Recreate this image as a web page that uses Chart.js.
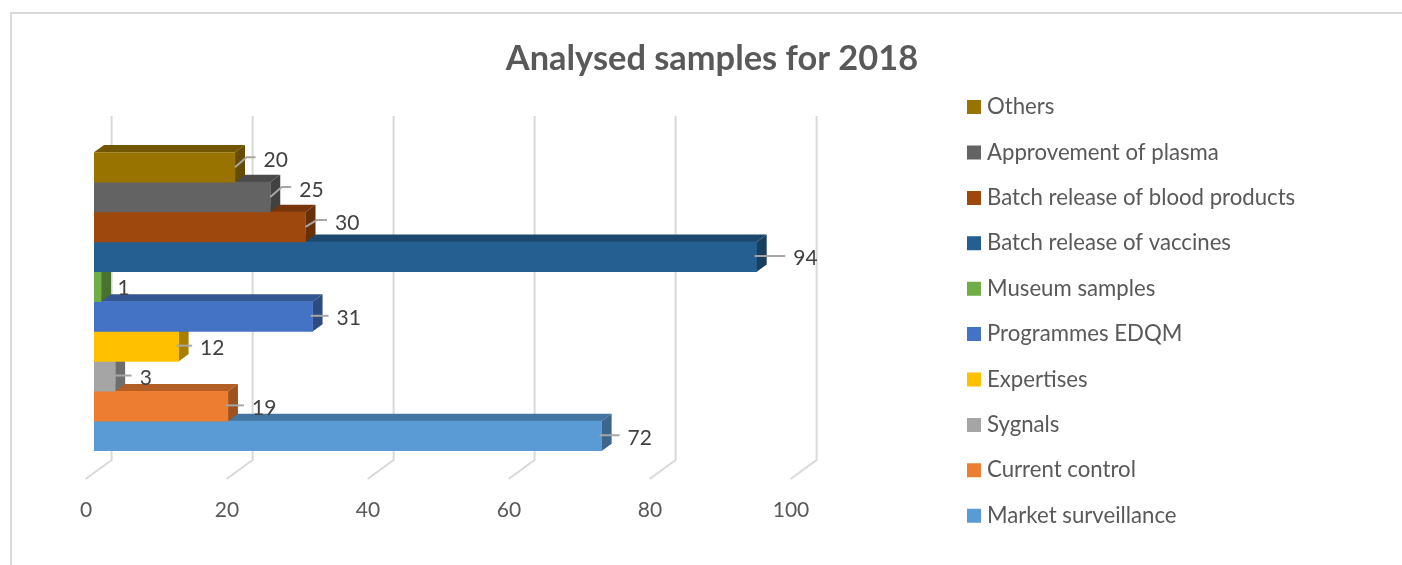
<!DOCTYPE html>
<html>
<head>
<meta charset="utf-8">
<title>Analysed samples for 2018</title>
<script src="https://cdn.jsdelivr.net/npm/chart.js@4/dist/chart.umd.min.js"></script>
<style>
  html, body { margin: 0; padding: 0; background: #fff; overflow: hidden; }
  #frame { position: absolute; left: 10px; top: 12px; width: 1392px; height: 553px;
           border-top: 2px solid #d9d9d9; border-left: 2px solid #d9d9d9; box-sizing: border-box; }
  canvas { position: absolute; left: 0; top: 0; }
</style>
</head>
<body>
<div id="frame"></div>
<canvas id="samplesChart" width="1402" height="565"></canvas>
<script>
// Series run from the top bar down, same as the legend
const categories = ['2018'];
const seriesNames = ['Others', 'Approvement of plasma', 'Batch release of blood products',
    'Batch release of vaccines', 'Museum samples', 'Programmes EDQM', 'Expertises',
    'Sygnals', 'Current control', 'Market surveillance'];
const seriesValues = [20, 25, 30, 94, 1, 31, 12, 3, 19, 72];
const seriesColors = ['#997300', '#636363', '#9E480E', '#255E91', '#70AD47',
    '#4472C4', '#FFC000', '#A5A5A5', '#ED7D31', '#5B9BD5'];
const xTicks = [0, 20, 40, 60, 80, 100];

// Hand placed label lifts and gaps, Excel moved these around the bars
const labelLift = [10, 10, 7, 0, 0, 0, 0, 0, 0, 0];
const leaderLength = [20.5, 21, 21.5, 28.5, 0, 16, 13.5, 16.5, 16, 18];

const depthX = 10, depthY = 7.3;      // bar extrusion
const wallX = 17.6, wallTop = 116, wallBottom = 460;
const floorX = -26, floorY = 19;

function shade(hex, f) {
    const n = parseInt(hex.slice(1), 16);
    return `rgb(${Math.round((n >> 16) * f)},${Math.round(((n >> 8) & 255) * f)},${Math.round((n & 255) * f)})`;
}

function poly(ctx, pts, fill) {
    ctx.beginPath();
    pts.forEach((p, i) => i ? ctx.lineTo(p[0], p[1]) : ctx.moveTo(p[0], p[1]));
    ctx.closePath();
    ctx.fillStyle = fill;
    ctx.fill();
}

const placeBoxes = {
    id: 'placeBoxes',
    afterLayout(chart) {
        const legend = chart.legend;
        legend.maxHeight = 540;
        legend.maxWidth = 420;
        legend.fit();
        legend.left = 972.1 - legend.options.labels.padding;
        legend.right = legend.left + legend.width;
        legend.top = 96 - legend.options.labels.padding;
        legend.bottom = legend.top + legend.height;
        chart.titleBlock.left = 22;
        chart.titleBlock.right = 1402;
    }
};

const walls = {
    id: 'walls',
    beforeDatasetsDraw(chart) {
        const ctx = chart.ctx, x = chart.scales.x;
        ctx.save();
        ctx.strokeStyle = '#d9d9d9';
        ctx.lineWidth = 2;
        xTicks.forEach(t => {
            const px = x.getPixelForValue(t) + wallX;
            ctx.beginPath();
            ctx.moveTo(px, wallTop);
            ctx.lineTo(px, wallBottom);
            ctx.lineTo(px + floorX, wallBottom + floorY);
            ctx.stroke();
        });
        ctx.restore();
    }
};

// top and side faces go under each bar's own front face
const bars3d = {
    id: 'bars3d',
    beforeDatasetDraw(chart, args) {
        const ctx = chart.ctx, bar = args.meta.data[0], color = seriesColors[args.index];
        const top = bar.y - bar.height / 2, bottom = bar.y + bar.height / 2;
        poly(ctx, [[bar.base, top], [bar.x, top], [bar.x + depthX, top - depthY], [bar.base + depthX, top - depthY]], shade(color, 0.75));
        poly(ctx, [[bar.x, top], [bar.x + depthX, top - depthY], [bar.x + depthX, bottom - depthY], [bar.x, bottom]], shade(color, 0.66));
    }
};

const valueLabels = {
    id: 'valueLabels',
    afterDatasetsDraw(chart) {
        const ctx = chart.ctx;
        ctx.save();
        ctx.font = '21px Lato';
        ctx.textBaseline = 'middle';
        seriesValues.forEach((v, i) => {
            const bar = chart.getDatasetMeta(i).data[0];
            const lift = labelLift[i], len = leaderLength[i];
            const y = bar.y - lift - (lift ? 0 : 0.8);
            if (len) {
                ctx.strokeStyle = '#a6a6a6';
                ctx.lineWidth = 2;
                ctx.beginPath();
                ctx.moveTo(bar.x - (lift ? 0 : 2), lift ? bar.y : y);
                if (lift) ctx.lineTo(bar.x + 11.5, y);
                ctx.lineTo(bar.x + len, y);
                ctx.stroke();
            }
            ctx.fillStyle = '#404040';
            ctx.fillText(String(v), bar.x + (len ? len + 8 : 16.5), y + (lift ? 3 : 2.5));
        });
        ctx.restore();
    }
};

new Chart(document.getElementById('samplesChart').getContext('2d'), {
    type: 'bar',
    data: {
        labels: categories,
        datasets: seriesNames.map((name, i) => ({
            label: name,
            data: [seriesValues[i]],
            backgroundColor: seriesColors[i],
            borderWidth: 0,
            categoryPercentage: 1,
            barPercentage: 1
        }))
    },
    options: {
        indexAxis: 'y',
        responsive: false,
        animation: false,
        layout: { autoPadding: false, padding: { left: 94, right: 603, top: 0, bottom: 3 } },
        plugins: {
            tooltip: { enabled: false },
            title: {
                display: true,
                text: 'Analysed samples for 2018',
                color: '#595959',
                font: { family: 'Lato', size: 34.4, weight: 'bold', lineHeight: 1.2 },
                padding: { top: 38.15, bottom: 72.85 }
            },
            legend: {
                position: 'chartArea',
                align: 'start',
                labels: {
                    color: '#595959',
                    font: { family: 'Lato', size: 22.2, lineHeight: 1.2 },
                    usePointStyle: true,
                    pointStyle: 'rect',
                    boxWidth: 3.8,
                    boxHeight: 14,
                    padding: 23.2
                }
            }
        },
        scales: {
            x: {
                type: 'linear',
                min: 0,
                max: 100,
                grid: { display: false },
                border: { display: false },
                ticks: {
                    stepSize: 20,
                    color: '#595959',
                    font: { family: 'Lato', size: 21, lineHeight: 1.2 },
                    labelOffset: -8,
                    padding: 38.9,
                    maxRotation: 0
                }
            },
            y: { display: false }
        }
    },
    plugins: [placeBoxes, walls, bars3d, valueLabels]
});
</script>
</body>
</html>
